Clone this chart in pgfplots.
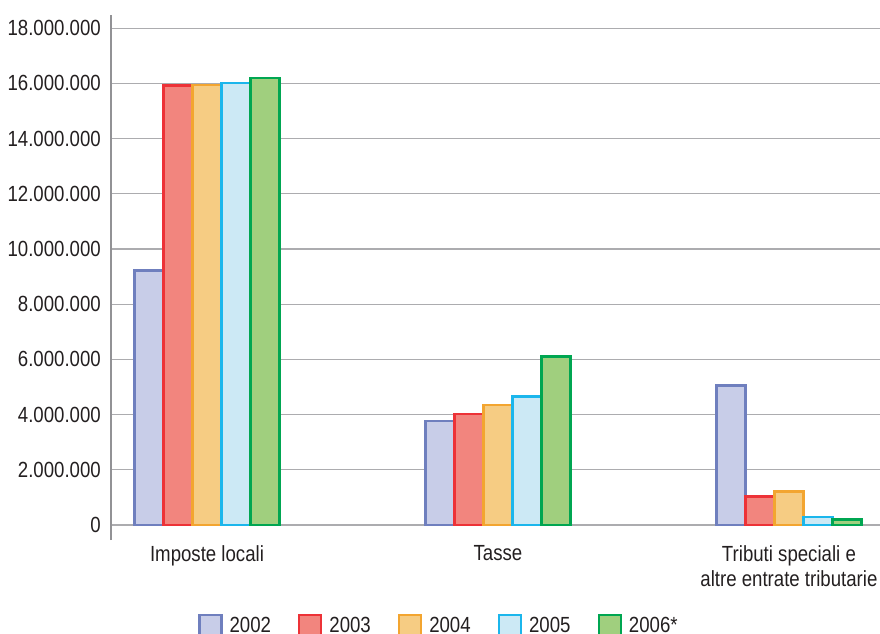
\documentclass[border=0pt]{standalone}
\usepackage{pgfplots}
\pgfplotsset{compat=1.18}
\usepackage{fontspec}
\setmainfont{Liberation Sans}[FakeStretch=0.85]

\definecolor{f2002}{RGB}{200,205,232}\definecolor{d2002}{RGB}{111,127,190}
\definecolor{f2003}{RGB}{242,133,126}\definecolor{d2003}{RGB}{237,50,55}
\definecolor{f2004}{RGB}{246,204,131}\definecolor{d2004}{RGB}{243,165,48}
\definecolor{f2005}{RGB}{204,233,245}\definecolor{d2005}{RGB}{27,182,236}
\definecolor{f2006}{RGB}{160,207,126}\definecolor{d2006}{RGB}{0,166,81}
\definecolor{gridgray}{RGB}{172,172,175}
\definecolor{txt}{RGB}{35,31,32}

\begin{document}
\begin{tikzpicture}[x=1bp,y=1bp]
\begin{axis}[
  at={(111bp,94bp)}, anchor=south west,
  scale only axis, width=769bp, height=525bp,
  xmin=-0.33, xmax=2.313,
  ymin=-543000, ymax=18480000,
  separate axis lines,
  axis x line*=bottom, axis y line*=left,
  x axis line style={draw=none},
  y axis line style={draw=gridgray!85!black, line width=2bp},
  major tick length=0pt,
  ymajorgrids,
  grid style={draw=gridgray, line width=1.3bp},
  ytick={0,2000000,4000000,6000000,8000000,10000000,12000000,14000000,16000000,18000000},
  yticklabels={0,2.000.000,4.000.000,6.000.000,8.000.000,10.000.000,12.000.000,14.000.000,16.000.000,18.000.000},
  xtick={0,1,2},
  xticklabels={Imposte locali,Tasse,{Tributi speciali e\\altre entrate tributarie}},
  tick label style={font=\fontsize{22}{26}\selectfont, text=txt, inner sep=0pt},
  yticklabel style={xshift=-10bp},
  xticklabel style={align=center, yshift=-5bp},
  ybar=0pt, bar width=29bp,
  legend columns=-1,
  legend style={at={(0.1131,-0.1638)}, anchor=west, draw=none, inner sep=0pt,
    font=\fontsize{22}{26}\selectfont, text=txt,
    nodes={inner sep=0pt},
    /tikz/every even column/.append style={column sep=27bp},
    /tikz/every odd column/.append style={column sep=7bp}},
  legend image code/.code={\draw[#1, line width=2.4bp] (0bp,-11bp) rectangle (22bp,11bp);},
]
\addplot[fill=f2002, draw=d2002, line width=2.4bp] coordinates {(0,9220000) (1,3760000) (2,5060000)};
\addplot[fill=f2003, draw=d2003, line width=2.4bp] coordinates {(0,15930000) (1,4020000) (2,1040000)};
\addplot[fill=f2004, draw=d2004, line width=2.4bp] coordinates {(0,15940000) (1,4340000) (2,1220000)};
\addplot[fill=f2005, draw=d2005, line width=2.4bp] coordinates {(0,16010000) (1,4660000) (2,280000)};
\addplot[fill=f2006, draw=d2006, line width=2.4bp] coordinates {(0,16200000) (1,6110000) (2,200000)};
\legend{2002,2003,2004,2005,2006*}
\end{axis}
\pgfresetboundingbox
\path[use as bounding box] (0,0) rectangle (880bp,634bp);
\end{tikzpicture}
\end{document}
